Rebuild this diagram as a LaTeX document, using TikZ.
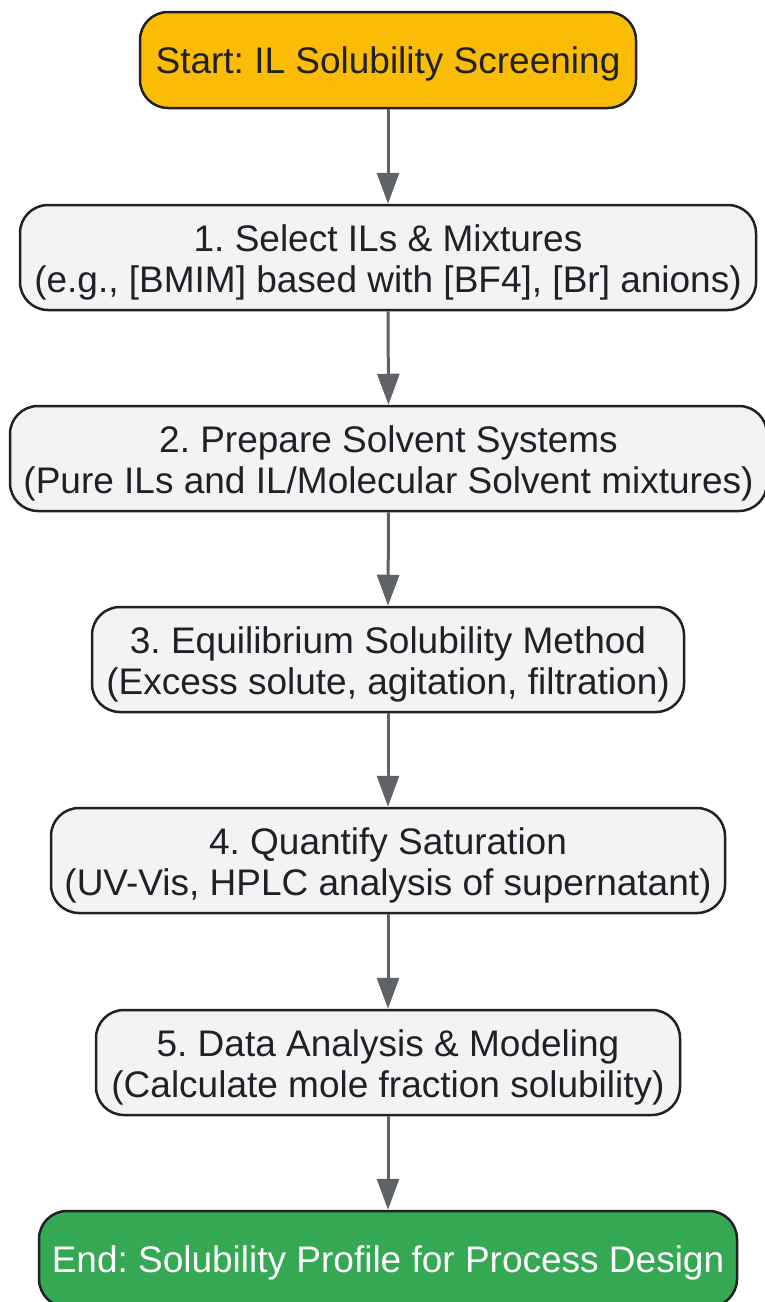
\documentclass[tikz,border=0pt]{standalone}
\usepackage{fontspec}
\setmainfont{Liberation Sans}
\usetikzlibrary{arrows.meta}
\definecolor{txt}{HTML}{202124}
\definecolor{bord}{HTML}{202124}
\definecolor{boxfill}{HTML}{F1F3F4}
\definecolor{startfill}{HTML}{FBBC05}
\definecolor{endfill}{HTML}{34A853}
\definecolor{arr}{HTML}{5F6368}
\frenchspacing
\begin{document}
\begin{tikzpicture}[x=1pt,y=-1pt,
  box/.style={draw=bord, line width=2.5pt, rounded corners=28pt, fill=boxfill, inner sep=0pt},
  lbl/.style={text=txt, align=center, inner sep=0pt,
    font=\fontsize{37}{41}\selectfont\frenchspacing},
  conn/.style={draw=arr, line width=3pt, -{Triangle[width=22pt,length=31pt]}}]
\useasboundingbox (0,0) rectangle (765,1302);
\node[box, fill=startfill, minimum width=496pt, minimum height=96pt] (s) at (388,60) {};
\node[lbl] (st) at ([yshift=-4pt]s.center) {Start: IL Solubility Screening};
\node[box, minimum width=736pt, minimum height=105pt] (n1) at (388,257.5) {};
\node[lbl] (n1t) at ([yshift=-5pt]n1.center) {1. Select ILs \& Mixtures\\(e.g., [BMIM] based with [BF4], [Br] anions)};
\node[box, minimum width=757pt, minimum height=105pt] (n2) at (388.5,458.5) {};
\node[lbl] (n2t) at ([yshift=-5pt]n2.center) {2. Prepare Solvent Systems\\(Pure ILs and IL/Molecular Solvent mixtures)};
\node[box, minimum width=592pt, minimum height=105pt] (n3) at (388,659.5) {};
\node[lbl] (n3t) at ([yshift=-5pt]n3.center) {3. Equilibrium Solubility Method\\(Excess solute, agitation, filtration)};
\node[box, minimum width=674pt, minimum height=105pt] (n4) at (388,860.5) {};
\node[lbl] (n4t) at ([yshift=-5pt]n4.center) {4. Quantify Saturation\\(UV-Vis, HPLC analysis of supernatant)};
\node[box, minimum width=584pt, minimum height=105pt] (n5) at (388,1062.5) {};
\node[lbl] (n5t) at ([yshift=-5pt]n5.center) {5. Data Analysis \& Modeling\\(Calculate mole fraction solubility)};
\node[box, fill=endfill, minimum width=698pt, minimum height=96pt] (e) at (388,1259) {};
\node[lbl, text=white] (et) at ([yshift=-4pt]e.center) {End: Solubility Profile for Process Design};
\draw[conn] (s.south) -- (n1.north);
\draw[conn] (n1.south) -- (n2.north);
\draw[conn] (n2.south) -- (n3.north);
\draw[conn] (n3.south) -- (n4.north);
\draw[conn] (n4.south) -- (n5.north);
\draw[conn] (n5.south) -- (e.north);
\end{tikzpicture}
\end{document}
